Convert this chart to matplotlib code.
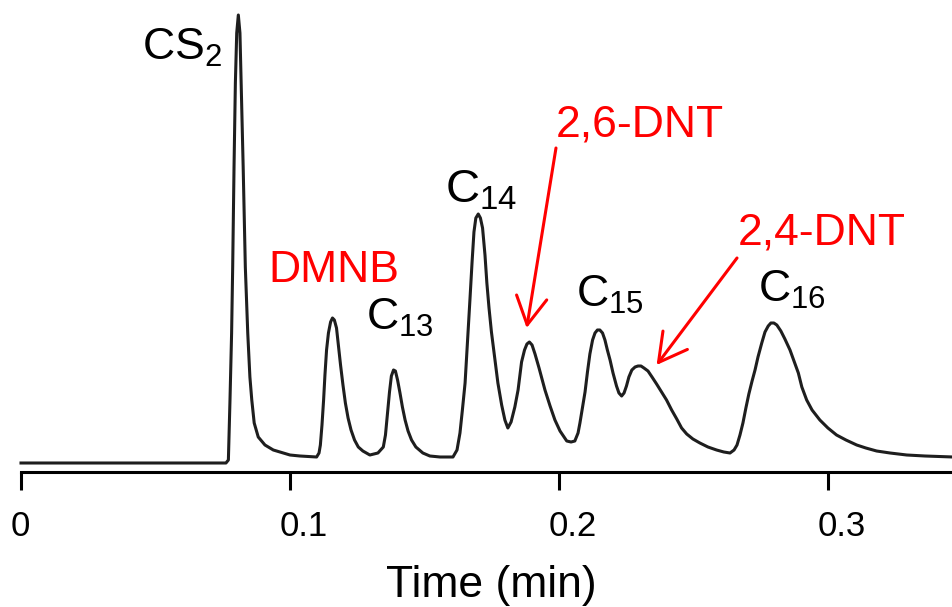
import matplotlib
matplotlib.use("Agg")
import matplotlib.pyplot as plt
from matplotlib.transforms import ScaledTranslation

plt.rcParams["font.family"] = ["Liberation Sans", "DejaVu Sans"]
plt.rcParams["mathtext.default"] = "regular"

# chromatogram trace (time in min, signal in arbitrary units)
time_min = [0.0, 0.0762, 0.0771, 0.0777, 0.0783, 0.0787, 0.0792, 0.0797, 0.0802, 0.0808,
            0.0814, 0.0820, 0.0826, 0.0834, 0.0843, 0.0851, 0.0858, 0.0867, 0.0882, 0.0907,
            0.0938, 0.1000, 0.1037, 0.1099,
            # DMNB
            0.1108, 0.1113, 0.1119, 0.1125, 0.1130, 0.1136, 0.1143, 0.1151, 0.1158, 0.1165,
            0.1173, 0.1180, 0.1188, 0.1197, 0.1206, 0.1216, 0.1227, 0.1240, 0.1254, 0.1271,
            0.1297,
            # C13
            0.1327, 0.1347, 0.1355, 0.1362, 0.1370, 0.1377, 0.1385, 0.1392, 0.1400, 0.1409,
            0.1418, 0.1428, 0.1439, 0.1452, 0.1468, 0.1494, 0.1520, 0.1558, 0.1606,
            # C14 and 2,6-DNT
            0.1621, 0.1632, 0.1641, 0.1651, 0.1660, 0.1669, 0.1677, 0.1684, 0.1691, 0.1700,
            0.1708, 0.1716, 0.1725, 0.1732, 0.1740, 0.1749, 0.1762, 0.1773, 0.1787, 0.1799,
            0.1810, 0.1822, 0.1836, 0.1848, 0.1861, 0.1872, 0.1881, 0.1890, 0.1900, 0.1911,
            0.1926, 0.1948, 0.1967, 0.1985, 0.2004, 0.2029, 0.2045, 0.2059,
            # C15 and 2,4-DNT
            0.2071, 0.2078, 0.2087, 0.2097, 0.2106, 0.2115, 0.2125, 0.2134, 0.2143, 0.2152,
            0.2162, 0.2171, 0.2180, 0.2190, 0.2201, 0.2214, 0.2223, 0.2233, 0.2242, 0.2251,
            0.2260, 0.2271, 0.2283, 0.2294, 0.2305, 0.2316, 0.2331, 0.2346, 0.2363, 0.2379,
            0.2400, 0.2419, 0.2438, 0.2456, 0.2475, 0.2498, 0.2524, 0.2554, 0.2586, 0.2613,
            0.2636,
            # C16
            0.2651, 0.2662, 0.2673, 0.2684, 0.2695, 0.2706, 0.2718, 0.2729, 0.2740, 0.2754,
            0.2766, 0.2778, 0.2788, 0.2799, 0.2810, 0.2825, 0.2840, 0.2859, 0.2874, 0.2890,
            0.2903, 0.2921, 0.2941, 0.2970, 0.3000, 0.3032, 0.3067, 0.3107, 0.3141, 0.3181,
            0.3231, 0.3293, 0.3361, 0.3465]
signal = [0, 0, 3, 63, 130, 196, 296, 380, 430, 448,
          430, 363, 296, 196, 130, 86, 63, 40, 26, 18,
          13, 8, 7, 6,
          10, 18, 38, 63, 88, 113, 130, 141, 145, 143,
          135, 118, 98, 78, 60, 45, 33, 23, 16, 12,
          8,
          10, 16, 28, 48, 71, 87, 93, 92, 83, 70,
          56, 43, 32, 23, 16, 10, 7, 6, 6,
          13, 30, 53, 80, 121, 163, 201, 231, 245, 249,
          245, 235, 208, 180, 155, 131, 103, 80, 58, 43,
          35, 41, 56, 73, 101, 113, 119, 121, 118, 109,
          95, 73, 57, 43, 32, 22, 21, 22,
          30, 40, 55, 71, 91, 109, 123, 130, 133, 133,
          130, 123, 113, 103, 90, 77, 70, 67, 70, 77,
          86, 93, 96, 97, 97, 95, 92, 86, 79, 72,
          63, 53, 44, 35, 29, 24, 20, 16, 13, 11,
          10,
          13, 18, 28, 40, 55, 69, 82, 93, 106, 120,
          131, 137, 140, 140, 138, 132, 124, 113, 102, 90,
          76, 63, 53, 43, 35, 28, 23, 18, 15, 12,
          10, 8, 7, 6]

# peak labels
label_text = ["CS$_2$", "DMNB", "C$_{13}$", "C$_{14}$", "2,6-DNT", "C$_{15}$", "2,4-DNT", "C$_{16}$"]
label_t = [0.0450, 0.0918, 0.1284, 0.1576, 0.1989, 0.2064, 0.2665, 0.2740]
label_s = [403, 181, 133, 260, 326, 156, 218, 161]
label_color = ["black", "red", "black", "black", "red", "black", "red", "black"]
label_size = [32, 32, 32, 34, 32, 32, 32, 32]

# arrows pointing at the nitro compounds (start -> tip)
arrow_start = [(0.1989, 315), (0.2662, 205)]
arrow_tip = [(0.1880, 135), (0.2363, 98)]

tick_pos = [0, 0.1, 0.2, 0.3]
tick_lab = ["0", "0.1", "0.2", "0.3"]

fig = plt.figure(figsize=(9.53, 6.07), dpi=100)
ax = fig.add_axes([21 / 953, 135 / 607, 1 - 21 / 953, 1 - 135 / 607])

ax.plot(time_min, signal, color="#1e1e1e", linewidth=2.2,
        solid_joinstyle="round", clip_on=False)

for txt, t, s, c, fs in zip(label_text, label_t, label_s, label_color, label_size):
    ax.text(t, s, txt, color=c, fontsize=fs, ha="left", va="baseline")

for (t0, s0), (t1, s1) in zip(arrow_start, arrow_tip):
    ax.annotate("", xy=(t1, s1), xytext=(t0, s0),
                arrowprops=dict(arrowstyle="->,head_length=1.0,head_width=0.55",
                                color="red", lw=2.2, mutation_scale=20,
                                shrinkA=0, shrinkB=0))

ax.set_xlim(0, 0.3465)
ax.set_ylim(-9, 463)
ax.set_xticks(tick_pos)
ax.set_xticklabels(tick_lab)
ax.tick_params(axis="x", direction="out", length=13, width=2.2, pad=14, labelsize=25)
# the leading "0" of each label sits under its tick
shift = ScaledTranslation(-10 / 100, 0, fig.dpi_scale_trans)
for lbl in ax.get_xticklabels():
    lbl.set_horizontalalignment("left")
    lbl.set_transform(lbl.get_transform() + shift)
ax.set_yticks([])
for side in ["left", "right", "top"]:
    ax.spines[side].set_visible(False)
ax.spines["bottom"].set_linewidth(2.2)
ax.patch.set_alpha(0)

fig.text(491 / 953, 10 / 607, "Time (min)", ha="center", va="baseline", fontsize=32)

fig.savefig("out.png", dpi=100)
